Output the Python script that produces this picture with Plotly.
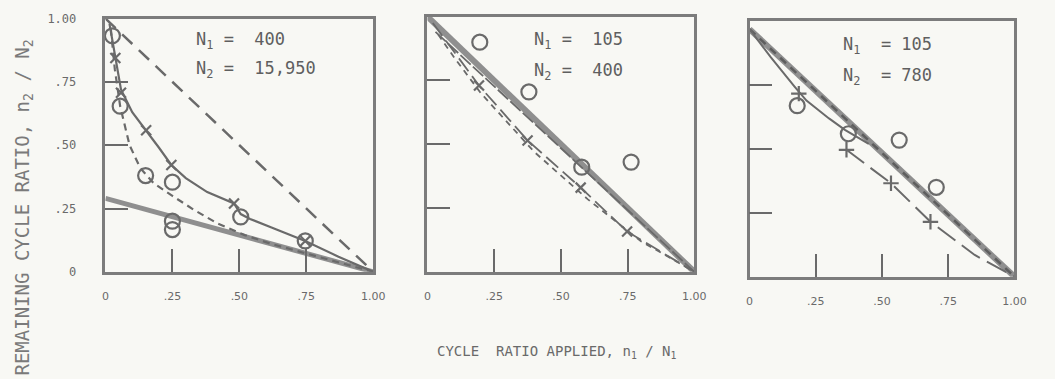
import plotly.graph_objects as go

W, H = 1055, 379

INK = "#6a6a6a"
THICK = "#8f8f8f"
BG = "#f8f8f4"

tick_vals = [0, 0.25, 0.5, 0.75, 1.0]
tick_text = ["0", ".25", ".50", ".75", "1.00"]

# ---- Panel 1: N1 = 400, N2 = 15,950 ----
p1_circle_x = [0.026, 0.055, 0.15, 0.25, 0.25, 0.25, 0.505, 0.746]
p1_circle_y = [0.932, 0.654, 0.38, 0.354, 0.20, 0.167, 0.217, 0.122]
p1_cross_x = [0.037, 0.058, 0.152, 0.246, 0.48, 0.746]
p1_cross_y = [0.844, 0.707, 0.559, 0.422, 0.27, 0.122]
p1_linear_x = [0.0, 1.0]
p1_linear_y = [1.0, 0.0]
p1_solid_x = [0.015, 0.037, 0.058, 0.10, 0.152, 0.20, 0.246, 0.30, 0.38, 0.48, 0.505, 0.54, 0.62, 0.746, 0.87, 1.0]
p1_solid_y = [0.98, 0.844, 0.72, 0.63, 0.559, 0.49, 0.422, 0.37, 0.315, 0.27, 0.228, 0.209, 0.175, 0.122, 0.06, 0.0]
p1_short_x = [0.02, 0.035, 0.055, 0.09, 0.13, 0.18, 0.25, 0.33, 0.42, 0.52, 0.62, 0.80, 1.0]
p1_short_y = [0.96, 0.80, 0.654, 0.50, 0.41, 0.35, 0.30, 0.245, 0.19, 0.145, 0.11, 0.058, 0.0]
p1_low_x = [0.0, 1.0]
p1_low_y = [0.29, 0.0]

# ---- Panel 2: N1 = 105, N2 = 400 ----
p2_circle_x = [0.196, 0.38, 0.578, 0.763]
p2_circle_y = [0.90, 0.705, 0.41, 0.43]
p2_cross_x = [0.193, 0.375, 0.574, 0.748]
p2_cross_y = [0.73, 0.515, 0.33, 0.158]
p2_linear_x = [0.0, 1.0]
p2_linear_y = [1.0, 0.0]
p2_near_x = [0.03, 1.0]
p2_near_y = [0.94, 0.0]
p2_mid_x = [0.02, 0.10, 0.193, 0.375, 0.574, 0.748, 1.0]
p2_mid_y = [0.975, 0.86, 0.73, 0.515, 0.33, 0.158, 0.0]
p2_short_x = [0.04, 0.10, 0.20, 0.40, 0.60, 0.80, 1.0]
p2_short_y = [0.93, 0.84, 0.70, 0.47, 0.285, 0.12, 0.0]

# ---- Panel 3: N1 = 105, N2 = 780 ----
p3_circle_x = [0.18, 0.373, 0.565, 0.705]
p3_circle_y = [0.67, 0.56, 0.535, 0.35]
p3_plus_x = [0.186, 0.366, 0.534, 0.683]
p3_plus_y = [0.717, 0.497, 0.366, 0.215]
p3_linear_x = [0.0, 1.0]
p3_linear_y = [0.97, 0.0]
p3_solid_x = [0.0, 0.08, 0.17, 0.215, 0.30, 0.36, 0.45]
p3_solid_y = [0.97, 0.86, 0.745, 0.69, 0.62, 0.575, 0.52]
p3_dash_x = [0.366, 0.534, 0.683, 0.85, 1.0]
p3_dash_y = [0.497, 0.366, 0.215, 0.085, 0.0]

fig = go.Figure()


def add_line(xs, ys, n, width=2.0, dash="solid", color=INK):
    fig.add_trace(go.Scatter(
        x=xs, y=ys, mode="lines",
        xaxis="x" if n == 1 else f"x{n}", yaxis="y" if n == 1 else f"y{n}",
        line=dict(color=color, width=width, dash=dash),
        hoverinfo="skip", showlegend=False,
    ))


def add_marks(xs, ys, n, symbol, size):
    fig.add_trace(go.Scatter(
        x=xs, y=ys, mode="markers",
        xaxis="x" if n == 1 else f"x{n}", yaxis="y" if n == 1 else f"y{n}",
        marker=dict(symbol=symbol, size=size, color=INK,
                    line=dict(color=INK, width=2.2)),
        cliponaxis=False, hoverinfo="skip", showlegend=False,
    ))


# panel 1 curves
add_line(p1_low_x, p1_low_y, 1, width=5, color=THICK)
add_line(p1_linear_x, p1_linear_y, 1, width=2.5, dash="14px,9px")
add_line(p1_solid_x, p1_solid_y, 1, width=2.2)
add_line(p1_short_x, p1_short_y, 1, width=2.2, dash="7px,5px")
add_marks(p1_circle_x, p1_circle_y, 1, "circle-open", 15)
add_marks(p1_cross_x, p1_cross_y, 1, "x-thin-open", 10)

# panel 2 curves
add_line(p2_linear_x, p2_linear_y, 2, width=6, color=THICK)
add_line(p2_near_x, p2_near_y, 2, width=1.8, dash="14px,3px")
add_line(p2_mid_x, p2_mid_y, 2, width=1.8, dash="16px,6px")
add_line(p2_short_x, p2_short_y, 2, width=1.8, dash="6px,5px")
add_marks(p2_circle_x, p2_circle_y, 2, "circle-open", 15)
add_marks(p2_cross_x, p2_cross_y, 2, "x-thin-open", 10)

# panel 3 curves
add_line(p3_linear_x, p3_linear_y, 3, width=6, color=THICK)
add_line(p3_linear_x, p3_linear_y, 3, width=2.5, dash="8px,6px", color="#5e5e5e")
add_line(p3_solid_x, p3_solid_y, 3, width=2.0)
add_line(p3_dash_x, p3_dash_y, 3, width=2.0, dash="22px,8px")
add_marks(p3_circle_x, p3_circle_y, 3, "circle-open", 15)
add_marks(p3_plus_x, p3_plus_y, 3, "cross-thin-open", 11)

x_domains = [[103 / W, 375 / W], [430 / W, 701 / W], [757 / W, 1026 / W]]
y_domains = [[1 - 275 / H, 1 - 12 / H], [1 - 275 / H, 1 - 10 / H], [1 - 280 / H, 1 - 15 / H]]

axis_common = dict(
    range=[0, 1], tickvals=tick_vals, ticktext=tick_text,
    ticks="inside", ticklen=23, tickwidth=1.6, tickcolor=INK,
    showline=True, mirror=True, linecolor="#7c7c7c", linewidth=2.5,
    showgrid=False, zeroline=False, fixedrange=True,
)

layout = dict(
    width=W, height=H,
    margin=dict(l=0, r=0, t=0, b=0),
    paper_bgcolor=BG, plot_bgcolor=BG,
    showlegend=False,
)
for i in range(3):
    n = i + 1
    xname = "xaxis" if n == 1 else f"xaxis{n}"
    yname = "yaxis" if n == 1 else f"yaxis{n}"
    layout[xname] = dict(
        axis_common, domain=x_domains[i],
        anchor="y" if n == 1 else f"y{n}",
        ticklabelstandoff=12,
        tickfont=dict(family="DejaVu Sans", size=11, color=INK),
    )
    layout[yname] = dict(
        axis_common, domain=y_domains[i],
        anchor="x" if n == 1 else f"x{n}",
        showticklabels=(n == 1),
        ticklabelstandoff=24,
        tickfont=dict(family="DejaVu Sans Mono", size=12, color=INK),
    )

fig.update_layout(**layout)

NB = "\u00a0"
panel_labels = [
    (1, 0.33, 0.913, f"N<sub>1</sub>{NB}={NB}{NB}400"),
    (1, 0.33, 0.80, f"N<sub>2</sub>{NB}={NB}{NB}15,950"),
    (2, 0.39, 0.905, f"N<sub>1</sub>{NB}={NB}{NB}105"),
    (2, 0.39, 0.785, f"N<sub>2</sub>{NB}={NB}{NB}400"),
    (3, 0.347, 0.906, f"N<sub>1</sub>{NB}{NB}={NB}105"),
    (3, 0.347, 0.785, f"N<sub>2</sub>{NB}{NB}={NB}780"),
]
for n, ax, ay, txt in panel_labels:
    fig.add_annotation(
        x=ax, y=ay, xref="x" if n == 1 else f"x{n}", yref="y" if n == 1 else f"y{n}",
        text=txt, showarrow=False, xanchor="left", yanchor="middle",
        font=dict(family="DejaVu Sans Mono", size=17, color="#5f5f5f"),
    )

fig.add_annotation(
    x=562 / W, y=1 - 358 / H, xref="paper", yref="paper",
    text="CYCLE  RATIO APPLIED, n<sub>1</sub> / N<sub>1</sub>",
    showarrow=False, xanchor="center", yanchor="middle",
    font=dict(family="DejaVu Sans Mono", size=14, color=INK),
)
fig.add_annotation(
    x=20 / W, y=1 - 32 / H, xref="paper", yref="paper",
    text="REMAINING CYCLE RATIO, n<sub>2</sub> / N<sub>2</sub>",
    textangle=-90, showarrow=False, xanchor="center", yanchor="top",
    font=dict(family="DejaVu Sans Mono", size=19, color="#7a7a7a"),
)

fig.write_html("out.html")
